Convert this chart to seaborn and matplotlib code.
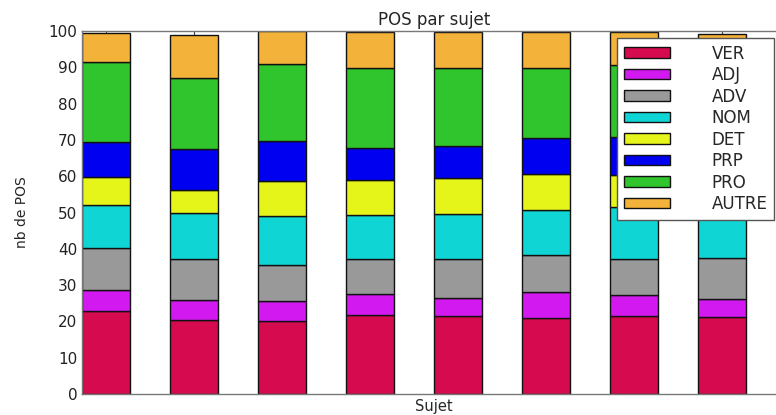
import numpy as np
import pandas as pd
import seaborn as sns
from matplotlib import pyplot as plt

sujets = ["S1", "S2", "S3", "S4", "S5", "S6", "S7", "S8"]
pos_tags = ["VER", "ADJ", "ADV", "NOM", "DET", "PRP", "PRO", "AUTRE"]
colors = ["#d50a4f", "#d21af0", "#999999", "#10d5d5",
          "#e5f51a", "#0000f0", "#30c42d", "#f3b23a"]

# cumulative tops, one list per subject
tops = {
    "S1": [22.8, 28.6, 40.3, 52.0, 59.7, 69.3, 91.4, 99.5],
    "S2": [20.3, 25.8, 37.2, 49.8, 56.2, 67.6, 87.0, 99.0],
    "S3": [20.1, 25.6, 35.5, 49.0, 58.8, 69.6, 91.0, 100.0],
    "S4": [21.7, 27.6, 37.1, 49.4, 58.9, 67.9, 89.7, 99.8],
    "S5": [21.5, 26.4, 37.2, 49.7, 59.5, 68.3, 89.8, 99.8],
    "S6": [20.9, 28.0, 38.4, 50.7, 60.5, 70.4, 89.9, 99.8],
    "S7": [21.4, 27.2, 37.2, 51.4, 60.4, 70.9, 90.7, 99.8],
    "S8": [21.2, 26.1, 37.6, 50.2, 59.0, 69.0, 90.0, 99.2],
}

# back to per-tag counts
counts = pd.DataFrame(
    {s: np.diff([0.0] + tops[s]) for s in sujets}, index=pos_tags
).T

sns.set_style("white")
plt.rcParams["font.family"] = ["DejaVu Sans"]
plt.rcParams["xtick.direction"] = "in"
plt.rcParams["ytick.direction"] = "in"

fig = plt.figure(figsize=(7.76, 4.15), dpi=100)
ax = fig.add_axes([82 / 776, 21 / 415, 704 / 776, 363 / 415])

bottom = np.zeros(len(sujets))
for tag, col in zip(pos_tags, colors):
    df = pd.DataFrame({"sujet": sujets, "nb": counts[tag].values})
    sns.barplot(data=df, x="sujet", y="nb", color=col, width=0.55,
                bottom=bottom, edgecolor="#111111", linewidth=1.0,
                saturation=1, label=tag, ax=ax)
    bottom = bottom + counts[tag].values

ax.set_xlim(-0.275, 7.725)
ax.set_ylim(0, 100)
ax.set_yticks(range(0, 101, 10))
ax.set_xticks(range(len(sujets)))
ax.set_xticklabels([])
ax.tick_params(axis="both", length=4, width=0.8, color="#444444",
               top=True, right=True, labelsize=11, labelcolor="#222222")
for sp in ax.spines.values():
    sp.set_color("#777777")
    sp.set_linewidth(1.0)

ax.set_title("POS par sujet", fontsize=12, pad=4)
ax.set_xlabel("Sujet", fontsize=10.5, labelpad=0)
ax.set_ylabel("nb de POS", fontsize=10, labelpad=14)

ax.legend(loc="upper right", bbox_to_anchor=(0.983, 0.981), borderaxespad=0,
          fontsize=12, labelspacing=0.21, handlelength=2.75,
          handleheight=0.6, handletextpad=2.5, fancybox=False,
          framealpha=1, edgecolor="#555555", borderpad=0.4)

fig.savefig("out.png", dpi=100)
